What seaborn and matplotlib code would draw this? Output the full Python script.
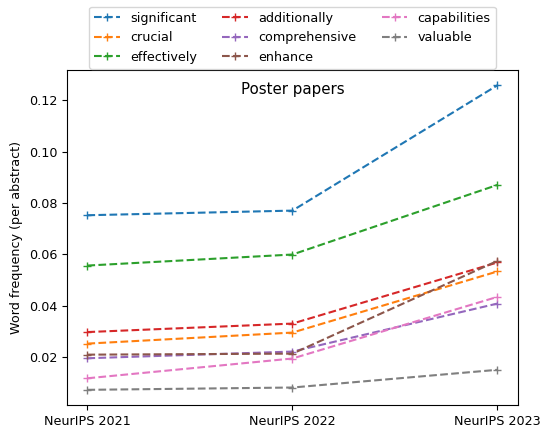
import matplotlib
matplotlib.use("Agg")
import matplotlib.pyplot as plt
import pandas as pd
import seaborn as sns

# word frequency per abstract, poster papers
years = ["NeurIPS 2021", "NeurIPS 2022", "NeurIPS 2023"]
words = ["significant", "crucial", "effectively", "additionally",
         "comprehensive", "enhance", "capabilities", "valuable"]

significant = [0.0752, 0.0770, 0.1258]
crucial = [0.0252, 0.0295, 0.0533]
effectively = [0.0556, 0.0599, 0.0870]
additionally = [0.0297, 0.0330, 0.0568]
comprehensive = [0.0195, 0.0221, 0.0408]
enhance = [0.0209, 0.0213, 0.0574]
capabilities = [0.0117, 0.0194, 0.0434]
valuable = [0.0072, 0.0081, 0.0150]

series = [significant, crucial, effectively, additionally,
          comprehensive, enhance, capabilities, valuable]

rows = []
for w, vals in zip(words, series):
    for y, v in zip(years, vals):
        rows.append({"year": y, "word": w, "freq": v})
df = pd.DataFrame(rows)

plt.rcParams["font.family"] = ["DejaVu Sans"]
plt.rcParams["font.size"] = 9.2

fig = plt.figure(figsize=(5.44, 4.3), dpi=100)
ax = fig.add_axes([0.123, 0.058, 0.829, 0.779])

palette = sns.color_palette("tab10", len(words))
for i, w in enumerate(words):
    sub = df[df["word"] == w]
    sns.lineplot(data=sub, x="year", y="freq", ax=ax, color=palette[i],
                 linestyle="--", marker="+", markersize=6, label=w,
                 markeredgecolor=palette[i], markeredgewidth=1.0)

ax.set_xlabel("")
ax.set_ylabel("Word frequency (per abstract)")
ax.margins(x=0.05, y=0.05)
ax.text(0.5, 0.943, "Poster papers", transform=ax.transAxes,
        ha="center", va="center", fontsize=10.8)

ax.legend(loc="lower center", bbox_to_anchor=(0.5, 0.985), ncol=3,
          fontsize=9.2, handlelength=2, columnspacing=2.0)

fig.savefig("out.png", dpi=100)
